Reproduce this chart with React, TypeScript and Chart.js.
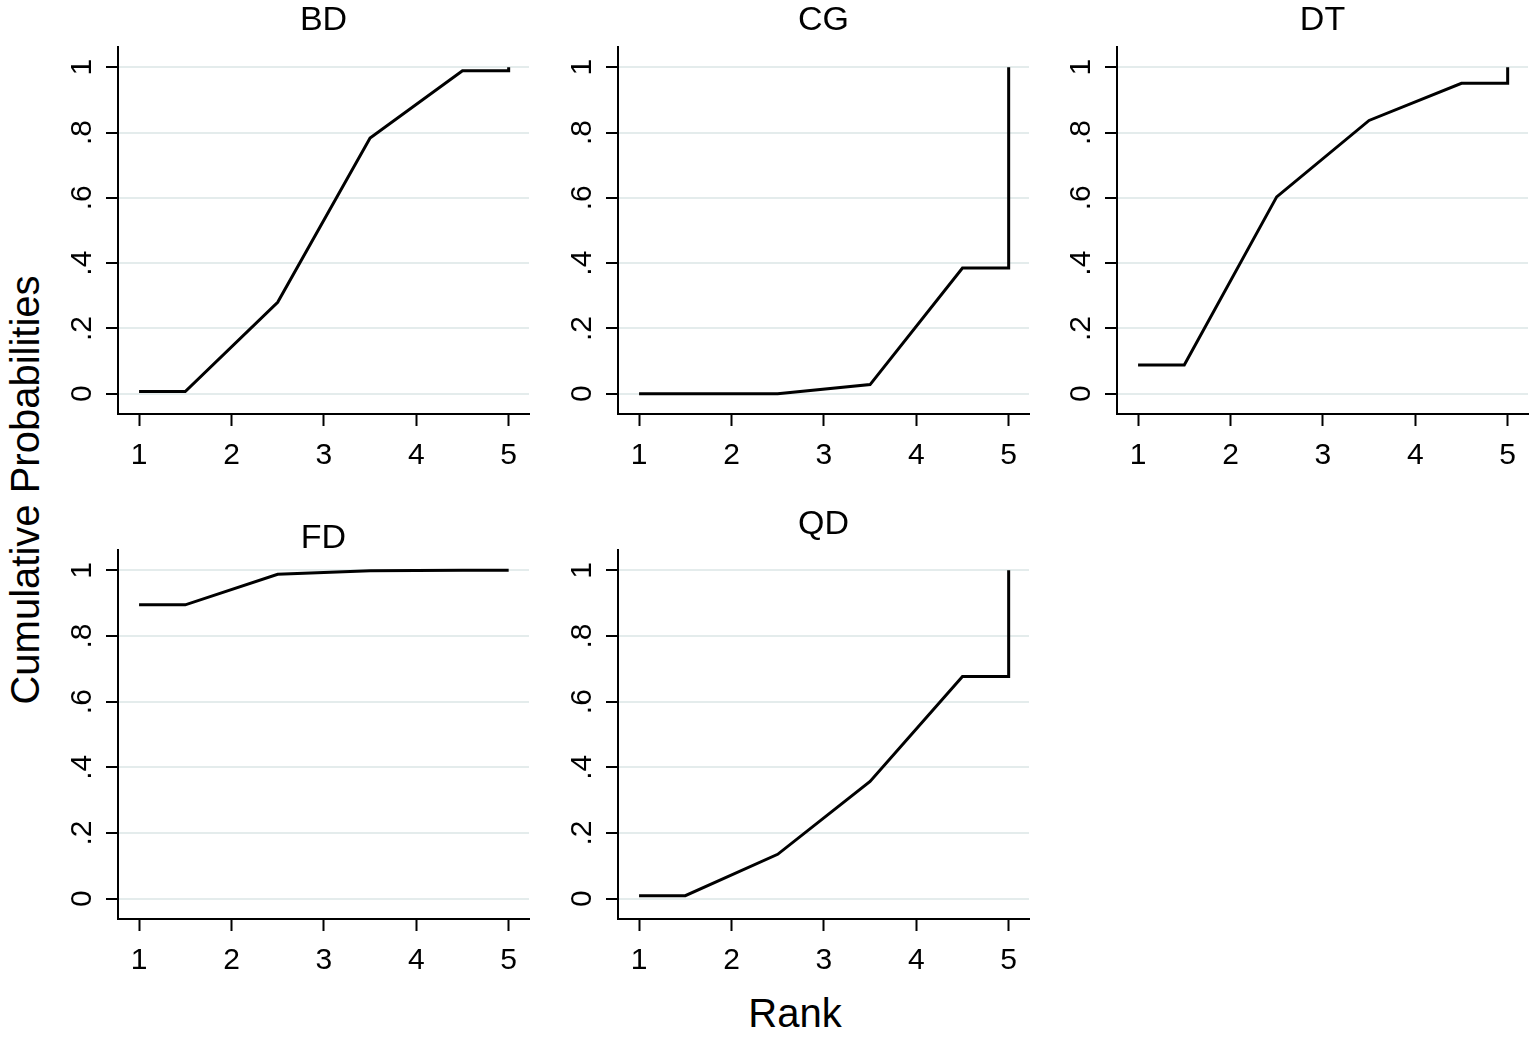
import { useEffect, useRef } from "react"
import { Chart, registerables } from "chart.js"

Chart.register(...registerables)

// rank positions used by the cumulative curve (mid-points + final step)
const rankX = [1, 1.5, 2.5, 3.5, 4.5, 5, 5]

const bdValues = [0.007, 0.007, 0.28, 0.783, 0.989, 0.989, 1]
const cgValues = [0, 0, 0, 0.028, 0.385, 0.385, 1]
const dtValues = [0.088, 0.088, 0.603, 0.837, 0.951, 0.951, 1]
const fdValues = [0.895, 0.895, 0.988, 0.999, 1, 1, 1]
const qdValues = [0.009, 0.009, 0.135, 0.357, 0.677, 0.677, 1]

const xTicks = [1, 2, 3, 4, 5]
const yTicks = [0, 0.2, 0.4, 0.6, 0.8, 1]
const yTickLabels = ["0", ".2", ".4", ".6", ".8", "1"]

const FONT = "'Liberation Sans', Arial, sans-serif"

type PanelProps = {
  title: string
  values: number[]
  left: number
  top: number
  height: number
  axisHeight: number
  titleTop: number
  titleBottom: number
}

function RankPanel({ title, values, left, top, height, axisHeight, titleTop, titleBottom }: PanelProps) {
  const canvasRef = useRef<HTMLCanvasElement>(null)
  const chartRef = useRef<Chart | null>(null)
  const width = 476

  useEffect(() => {
    if (!canvasRef.current) return
    if (chartRef.current) chartRef.current.destroy()
    const ctx = canvasRef.current.getContext("2d")
    if (!ctx) return

    chartRef.current = new Chart(ctx, {
      type: "line",
      data: {
        datasets: [
          {
            data: rankX.map((x, i) => ({ x, y: values[i] })),
            borderColor: "#000",
            borderWidth: 3,
            pointRadius: 0,
            tension: 0,
            fill: false,
          },
        ],
      },
      options: {
        responsive: false,
        animation: false,
        events: [],
        layout: { padding: { top: 0, right: 5, bottom: 0, left: 0 } },
        plugins: {
          legend: { display: false },
          tooltip: { enabled: false },
          title: {
            display: true,
            text: title,
            fullSize: false,
            color: "#000",
            font: { family: FONT, size: 34, weight: "normal", lineHeight: 0.6 },
            padding: { top: titleTop, bottom: titleBottom },
          },
        },
        scales: {
          x: {
            type: "linear",
            min: 0.772,
            max: 5.22,
            afterBuildTicks: (s: any) => {
              s.ticks = xTicks.map((v) => ({ value: v }))
            },
            afterFit: (s: any) => {
              s.height = axisHeight
            },
            grid: {
              drawOnChartArea: false,
              tickLength: 12,
              tickWidth: 2,
              tickColor: "#000",
            },
            border: { color: "#000", width: 2 },
            ticks: {
              color: "#000",
              padding: 12,
              autoSkip: false,
              maxRotation: 0,
              font: { family: FONT, size: 30 },
            },
          },
          y: {
            type: "linear",
            min: -0.062,
            max: 1.062,
            afterBuildTicks: (s: any) => {
              s.ticks = yTicks.map((v) => ({ value: v }))
            },
            afterFit: (s: any) => {
              s.width = 60
            },
            grid: {
              color: "#e4ecec",
              lineWidth: 2,
              tickLength: 12,
              tickWidth: 2,
              tickColor: "#000",
            },
            border: { color: "#000", width: 2 },
            ticks: {
              color: "#000",
              padding: 11,
              minRotation: 90,
              maxRotation: 90,
              crossAlign: "center",
              font: { family: FONT, size: 30 },
              callback: (v: any) => {
                const i = yTicks.findIndex((t) => Math.abs(t - Number(v)) < 1e-6)
                return i >= 0 ? yTickLabels[i] : ""
              },
            },
          },
        },
      },
    })

    return () => {
      if (chartRef.current) {
        chartRef.current.destroy()
        chartRef.current = null
      }
    }
  }, [])

  return (
    <canvas
      ref={canvasRef}
      width={width}
      height={height}
      style={{ position: "absolute", left, top, width, height }}
    />
  )
}

export default function App() {
  return (
    <div
      style={{
        position: "absolute",
        left: 0,
        top: 0,
        width: 1535,
        height: 1040,
        background: "#fff",
        fontFamily: FONT,
      }}
    >
      <RankPanel title="BD" values={bdValues} left={58} top={0} height={480} axisHeight={66} titleTop={10.8} titleBottom={15.8} />
      <RankPanel title="CG" values={cgValues} left={558} top={0} height={480} axisHeight={66} titleTop={10.8} titleBottom={15.8} />
      <RankPanel title="DT" values={dtValues} left={1057} top={0} height={480} axisHeight={66} titleTop={10.8} titleBottom={15.8} />
      <RankPanel title="FD" values={fdValues} left={58} top={480} height={500} axisHeight={61} titleTop={48.8} titleBottom={0.8} />
      <RankPanel title="QD" values={qdValues} left={558} top={480} height={500} axisHeight={61} titleTop={34.8} titleBottom={14.8} />
      <div
        style={{
          position: "absolute",
          left: 25,
          top: 490,
          transform: "translate(-50%, -50%) rotate(-90deg)",
          fontSize: 40,
          whiteSpace: "nowrap",
          color: "#000",
        }}
      >
        Cumulative Probabilities
      </div>
      <div
        style={{
          position: "absolute",
          left: 795,
          top: 1013,
          transform: "translate(-50%, -50%)",
          fontSize: 40,
          whiteSpace: "nowrap",
          color: "#000",
        }}
      >
        Rank
      </div>
    </div>
  )
}
